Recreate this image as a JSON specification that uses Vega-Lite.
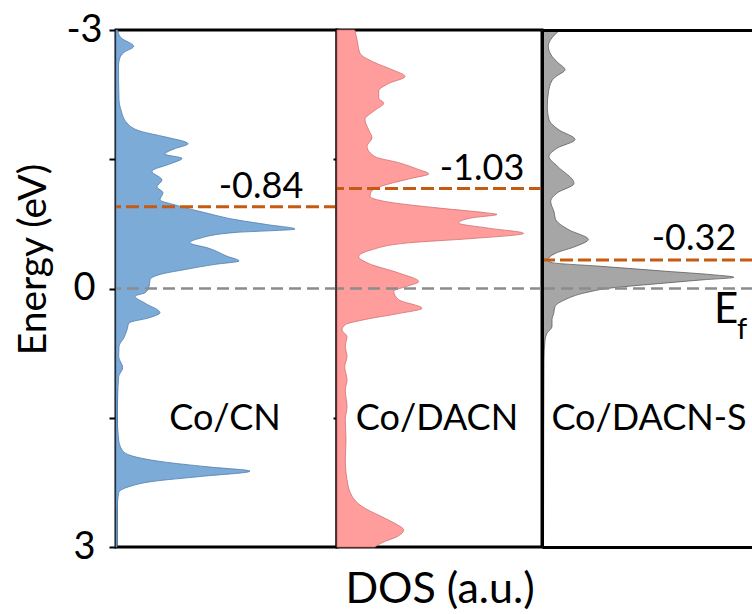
{
  "$schema": "https://vega.github.io/schema/vega-lite/v6.json",
  "background": "white",
  "padding": {"left": 13, "top": 9, "right": 0, "bottom": 2},
  "spacing": 0,
  "bounds": "flush",
  "config": {
    "view": {"stroke": "black", "strokeWidth": 3},
    "font": "Lato",
    "axis": {"labelFont": "Lato", "titleFont": "Lato", "titleFontWeight": "normal", "labelColor": "black", "titleColor": "black", "grid": false}
  },
  "datasets": {
    "cn": [
      {"energy": -3.00, "dos": 1.5}, {"energy": -2.91, "dos": 5}, {"energy": -2.81, "dos": 17.7}, {"energy": -2.74, "dos": 8},
      {"energy": -2.68, "dos": 4}, {"energy": -2.58, "dos": 2.5}, {"energy": -2.19, "dos": 3}, {"energy": -2.07, "dos": 5},
      {"energy": -1.92, "dos": 11}, {"energy": -1.82, "dos": 26}, {"energy": -1.76, "dos": 49}, {"energy": -1.68, "dos": 72},
      {"energy": -1.62, "dos": 58}, {"energy": -1.56, "dos": 49}, {"energy": -1.51, "dos": 66}, {"energy": -1.45, "dos": 55},
      {"energy": -1.36, "dos": 36}, {"energy": -1.26, "dos": 46}, {"energy": -1.18, "dos": 41}, {"energy": -1.11, "dos": 47},
      {"energy": -1.03, "dos": 44}, {"energy": -0.97, "dos": 59}, {"energy": -0.88, "dos": 89}, {"energy": -0.80, "dos": 119},
      {"energy": -0.74, "dos": 152}, {"energy": -0.69, "dos": 179}, {"energy": -0.65, "dos": 119}, {"energy": -0.58, "dos": 83},
      {"energy": -0.53, "dos": 74}, {"energy": -0.47, "dos": 92}, {"energy": -0.37, "dos": 112}, {"energy": -0.32, "dos": 123},
      {"energy": -0.28, "dos": 99}, {"energy": -0.22, "dos": 69}, {"energy": -0.16, "dos": 43}, {"energy": -0.10, "dos": 34},
      {"energy": -0.02, "dos": 33}, {"energy": 0.05, "dos": 29}, {"energy": 0.09, "dos": 19}, {"energy": 0.17, "dos": 29},
      {"energy": 0.28, "dos": 44}, {"energy": 0.34, "dos": 33}, {"energy": 0.40, "dos": 13}, {"energy": 0.48, "dos": 11},
      {"energy": 0.57, "dos": 8}, {"energy": 0.67, "dos": 3}, {"energy": 0.79, "dos": 2.7}, {"energy": 0.92, "dos": 6.7},
      {"energy": 1.02, "dos": 2.7}, {"energy": 1.25, "dos": 1.7}, {"energy": 1.49, "dos": 1.3}, {"energy": 1.76, "dos": 2.7},
      {"energy": 1.87, "dos": 6}, {"energy": 1.93, "dos": 12.7}, {"energy": 2.01, "dos": 46}, {"energy": 2.07, "dos": 92},
      {"energy": 2.12, "dos": 134}, {"energy": 2.18, "dos": 86}, {"energy": 2.24, "dos": 36}, {"energy": 2.30, "dos": 13},
      {"energy": 2.37, "dos": 2.7}, {"energy": 2.60, "dos": 1}, {"energy": 3.00, "dos": 1}
    ],
    "dacn": [
      {"energy": -3.00, "dos": 17.7}, {"energy": -2.89, "dos": 20}, {"energy": -2.73, "dos": 23}, {"energy": -2.62, "dos": 38},
      {"energy": -2.54, "dos": 55}, {"energy": -2.46, "dos": 68}, {"energy": -2.38, "dos": 51.7}, {"energy": -2.29, "dos": 41.7},
      {"energy": -2.21, "dos": 41.7}, {"energy": -2.15, "dos": 46.7}, {"energy": -2.07, "dos": 38}, {"energy": -1.96, "dos": 28},
      {"energy": -1.84, "dos": 31.7}, {"energy": -1.75, "dos": 35}, {"energy": -1.65, "dos": 30}, {"energy": -1.53, "dos": 38},
      {"energy": -1.46, "dos": 61.7}, {"energy": -1.38, "dos": 81.7}, {"energy": -1.33, "dos": 91.7}, {"energy": -1.28, "dos": 75},
      {"energy": -1.20, "dos": 48}, {"energy": -1.13, "dos": 34.7}, {"energy": -1.07, "dos": 33}, {"energy": -1.01, "dos": 48},
      {"energy": -0.93, "dos": 105}, {"energy": -0.88, "dos": 148}, {"energy": -0.86, "dos": 160}, {"energy": -0.82, "dos": 135},
      {"energy": -0.76, "dos": 121.7}, {"energy": -0.70, "dos": 151.7}, {"energy": -0.64, "dos": 186.7}, {"energy": -0.58, "dos": 135},
      {"energy": -0.53, "dos": 71.7}, {"energy": -0.45, "dos": 35}, {"energy": -0.37, "dos": 21.7}, {"energy": -0.29, "dos": 31.7},
      {"energy": -0.18, "dos": 61.7}, {"energy": -0.08, "dos": 81.7}, {"energy": -0.02, "dos": 68.3}, {"energy": 0.03, "dos": 56.7},
      {"energy": 0.13, "dos": 61.7}, {"energy": 0.23, "dos": 85}, {"energy": 0.29, "dos": 61.7}, {"energy": 0.36, "dos": 28},
      {"energy": 0.42, "dos": 8.3}, {"energy": 0.48, "dos": 5}, {"energy": 0.56, "dos": 10}, {"energy": 0.67, "dos": 8.3},
      {"energy": 0.79, "dos": 10}, {"energy": 0.91, "dos": 7.7}, {"energy": 1.06, "dos": 10}, {"energy": 1.18, "dos": 8.3},
      {"energy": 1.37, "dos": 10}, {"energy": 1.52, "dos": 8.3}, {"energy": 1.76, "dos": 9}, {"energy": 1.99, "dos": 8.3},
      {"energy": 2.22, "dos": 10}, {"energy": 2.41, "dos": 15}, {"energy": 2.53, "dos": 25}, {"energy": 2.65, "dos": 45},
      {"energy": 2.74, "dos": 60}, {"energy": 2.80, "dos": 66.7}, {"energy": 2.88, "dos": 60}, {"energy": 2.95, "dos": 45},
      {"energy": 3.00, "dos": 38}
    ],
    "dacns": [
      {"energy": -3.00, "dos": 18.3}, {"energy": -2.94, "dos": 12.3}, {"energy": -2.81, "dos": 6.3}, {"energy": -2.69, "dos": 10.3},
      {"energy": -2.62, "dos": 16}, {"energy": -2.54, "dos": 23}, {"energy": -2.46, "dos": 14}, {"energy": -2.42, "dos": 10.3},
      {"energy": -2.27, "dos": 6.3}, {"energy": -2.11, "dos": 5.3}, {"energy": -1.96, "dos": 7}, {"energy": -1.84, "dos": 17},
      {"energy": -1.73, "dos": 33}, {"energy": -1.63, "dos": 15.3}, {"energy": -1.53, "dos": 7}, {"energy": -1.42, "dos": 15.3},
      {"energy": -1.22, "dos": 32}, {"energy": -1.11, "dos": 15.3}, {"energy": -1.01, "dos": 8.7}, {"energy": -0.89, "dos": 12},
      {"energy": -0.80, "dos": 13.7}, {"energy": -0.68, "dos": 27}, {"energy": -0.57, "dos": 46.3}, {"energy": -0.49, "dos": 34},
      {"energy": -0.41, "dos": 13.7}, {"energy": -0.33, "dos": 6}, {"energy": -0.30, "dos": 10}, {"energy": -0.26, "dos": 56},
      {"energy": -0.20, "dos": 124}, {"energy": -0.16, "dos": 170}, {"energy": -0.13, "dos": 192}, {"energy": -0.10, "dos": 160},
      {"energy": -0.05, "dos": 110}, {"energy": -0.01, "dos": 72}, {"energy": 0.05, "dos": 43}, {"energy": 0.13, "dos": 23},
      {"energy": 0.21, "dos": 13}, {"energy": 0.29, "dos": 11.7}, {"energy": 0.36, "dos": 10}, {"energy": 0.44, "dos": 10},
      {"energy": 0.52, "dos": 5}, {"energy": 0.60, "dos": 3}, {"energy": 0.83, "dos": 2}, {"energy": 3.00, "dos": 1.5}
    ],
    "fermi": [{"energy": 0}],
    "dband": [
      {"panel": "CN", "energy": -0.95},
      {"panel": "DACN", "energy": -1.16},
      {"panel": "DACNS", "energy": -0.33}
    ],
    "notes": [
      {"panel": "CN", "kind": "value", "text": "-0.84", "dos": 145, "energy": -1.18},
      {"panel": "DACN", "kind": "value", "text": "-1.03", "dos": 145, "energy": -1.39},
      {"panel": "DACNS", "kind": "value", "text": "-0.32", "dos": 152, "energy": -0.58},
      {"panel": "CN", "kind": "name", "text": "Co/CN", "dos": 109, "energy": 1.51},
      {"panel": "DACN", "kind": "name", "text": "Co/DACN", "dos": 100, "energy": 1.51},
      {"panel": "DACNS", "kind": "name", "text": "Co/DACN-S", "dos": 107, "energy": 1.51},
      {"panel": "DACNS", "kind": "E", "text": "E", "dos": 184, "energy": 0.25},
      {"panel": "DACNS", "kind": "sub", "text": "f", "dos": 200, "energy": 0.48}
    ]
  },
  "hconcat": [
    {
      "width": 221,
      "height": 517,
      "view": {"stroke": "black", "strokeWidth": 3},
      "layer": [
        {
          "data": {"name": "cn"},
          "mark": {"type": "area", "orient": "horizontal", "interpolate": "monotone", "fill": "#7DABD8", "stroke": "#4F7DAD", "strokeWidth": 0.8},
          "encoding": {
            "y": {"field": "energy", "type": "quantitative", "scale": {"domain": [-3, 3], "reverse": true, "nice": false},
              "axis": {"values": [-3, -1.5, 0, 1.5, 3], "labelExpr": "datum.value === -3 ? '-3' : datum.value === 0 ? '0' : datum.value === 3 ? '3' : ''",
                "labelFontSize": 38, "labelAlign": "center", "labelBaseline": "middle", "labelPadding": 25, "labelFlush": false, "labelOverlap": false,
                "tickSize": 7, "tickWidth": 2, "tickColor": "black", "domain": false,
                "title": "Energy (eV)", "titleFontSize": 39, "titlePadding": 12, "titleY": 229}},
            "x": {"field": "dos", "type": "quantitative", "scale": {"domain": [0, 221], "nice": false, "zero": true}, "axis": null}
          }
        },
        {
          "data": {"name": "fermi"},
          "mark": {"type": "rule", "color": "#8C8C8C", "strokeWidth": 2.5, "strokeDash": [12, 6]},
          "encoding": {"y": {"field": "energy", "type": "quantitative"}}
        },
        {
          "data": {"name": "dband"},
          "transform": [{"filter": "datum.panel === 'CN'"}],
          "mark": {"type": "rule", "color": "#C55A11", "strokeWidth": 3, "strokeDash": [13, 5]},
          "encoding": {"y": {"field": "energy", "type": "quantitative"}}
        },
        {
          "data": {"name": "notes"},
          "transform": [{"filter": "datum.panel === 'CN'"}],
          "mark": {"type": "text", "font": "Lato", "fontSize": 36, "align": "center", "baseline": "middle", "color": "black"},
          "encoding": {
            "x": {"field": "dos", "type": "quantitative"},
            "y": {"field": "energy", "type": "quantitative"},
            "text": {"field": "text"}
          }
        }
      ]
    },
    {
      "width": 205,
      "height": 517,
      "view": {"stroke": "black", "strokeWidth": 3},
      "layer": [
        {
          "data": {"name": "dacn"},
          "mark": {"type": "area", "orient": "horizontal", "interpolate": "monotone", "fill": "#FF9C9C", "stroke": "#D07070", "strokeWidth": 0.8},
          "encoding": {
            "y": {"field": "energy", "type": "quantitative", "scale": {"domain": [-3, 3], "reverse": true, "nice": false},
              "axis": {"values": [-1.5, 1.5], "labels": false, "domain": false, "tickSize": 4, "tickWidth": 2, "tickColor": "black", "title": null}},
            "x": {"field": "dos", "type": "quantitative", "scale": {"domain": [0, 205], "nice": false, "zero": true},
              "axis": {"labels": false, "ticks": false, "domain": false, "title": "DOS (a.u.)", "titleFontSize": 43, "titlePadding": 21}}
          }
        },
        {
          "data": {"name": "fermi"},
          "mark": {"type": "rule", "color": "#8C8C8C", "strokeWidth": 2.5, "strokeDash": [12, 6]},
          "encoding": {"y": {"field": "energy", "type": "quantitative"}}
        },
        {
          "data": {"name": "dband"},
          "transform": [{"filter": "datum.panel === 'DACN'"}],
          "mark": {"type": "rule", "color": "#C55A11", "strokeWidth": 3, "strokeDash": [13, 5]},
          "encoding": {"y": {"field": "energy", "type": "quantitative"}}
        },
        {
          "data": {"name": "notes"},
          "transform": [{"filter": "datum.panel === 'DACN'"}],
          "mark": {"type": "text", "font": "Lato", "fontSize": 36, "align": "center", "baseline": "middle", "color": "black"},
          "encoding": {
            "x": {"field": "dos", "type": "quantitative"},
            "y": {"field": "energy", "type": "quantitative"},
            "text": {"field": "text"}
          }
        }
      ]
    },
    {
      "width": 211,
      "height": 517,
      "view": {"stroke": null},
      "resolve": {"axis": {"x": "independent"}},
      "layer": [
        {
          "data": {"name": "dacns"},
          "mark": {"type": "area", "orient": "horizontal", "interpolate": "monotone", "fill": "#A6A6A6", "stroke": "#5E5E5E", "strokeWidth": 0.8},
          "encoding": {
            "y": {"field": "energy", "type": "quantitative", "scale": {"domain": [-3, 3], "reverse": true, "nice": false},
              "axis": {"labels": false, "ticks": false, "domain": true, "domainColor": "black", "domainWidth": 3, "title": null, "zindex": 2}},
            "x": {"field": "dos", "type": "quantitative", "scale": {"domain": [0, 211], "nice": false, "zero": true},
              "axis": {"orient": "bottom", "labels": false, "ticks": false, "domain": true, "domainColor": "black", "domainWidth": 3, "title": null, "zindex": 2}}
          }
        },
        {
          "data": {"name": "fermi"},
          "mark": {"type": "rule", "color": "#8C8C8C", "strokeWidth": 2.5, "strokeDash": [12, 6]},
          "encoding": {"y": {"field": "energy", "type": "quantitative"}}
        },
        {
          "data": {"name": "dband"},
          "transform": [{"filter": "datum.panel === 'DACNS'"}],
          "mark": {"type": "rule", "color": "#C55A11", "strokeWidth": 3, "strokeDash": [13, 5]},
          "encoding": {"y": {"field": "energy", "type": "quantitative"}}
        },
        {
          "data": {"name": "notes"},
          "transform": [{"filter": "datum.panel === 'DACNS' && (datum.kind === 'value' || datum.kind === 'name')"}],
          "mark": {"type": "text", "font": "Lato", "fontSize": 36, "align": "center", "baseline": "middle", "color": "black"},
          "encoding": {
            "x": {"field": "dos", "type": "quantitative",
              "axis": {"orient": "top", "labels": false, "ticks": false, "domain": true, "domainColor": "black", "domainWidth": 3, "title": null, "zindex": 2}},
            "y": {"field": "energy", "type": "quantitative"},
            "text": {"field": "text"}
          }
        },
        {
          "data": {"name": "notes"},
          "transform": [{"filter": "datum.panel === 'DACNS' && datum.kind === 'E'"}],
          "mark": {"type": "text", "font": "Lato", "fontSize": 42, "align": "center", "baseline": "middle", "color": "black"},
          "encoding": {
            "x": {"field": "dos", "type": "quantitative", "axis": null},
            "y": {"field": "energy", "type": "quantitative"},
            "text": {"field": "text"}
          }
        },
        {
          "data": {"name": "notes"},
          "transform": [{"filter": "datum.panel === 'DACNS' && datum.kind === 'sub'"}],
          "mark": {"type": "text", "font": "Lato", "fontSize": 29, "align": "center", "baseline": "middle", "color": "black"},
          "encoding": {
            "x": {"field": "dos", "type": "quantitative", "axis": null},
            "y": {"field": "energy", "type": "quantitative"},
            "text": {"field": "text"}
          }
        }
      ]
    }
  ]
}
